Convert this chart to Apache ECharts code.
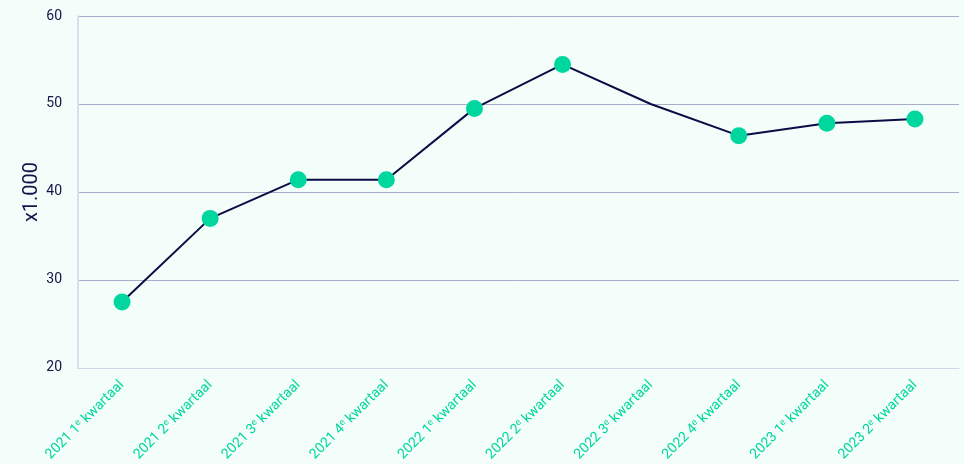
<!DOCTYPE html>
<html>
<head>
<meta charset="utf-8">
<script src="https://cdn.jsdelivr.net/npm/echarts@6/dist/echarts.min.js"></script>
<style>
  html, body { margin: 0; padding: 0; background: #f3fdf9; }
  #main { width: 964px; height: 464px; }
</style>
</head>
<body>
<div id="main"></div>
<script>
// kwartalen en waarden (x1.000)
var categories = ['2021 1e kwartaal', '2021 2e kwartaal', '2021 3e kwartaal', '2021 4e kwartaal',
    '2022 1e kwartaal', '2022 2e kwartaal', '2022 3e kwartaal', '2022 4e kwartaal',
    '2023 1e kwartaal', '2023 2e kwartaal'];
var values = [27.5, 37.0, 41.4, 41.4, 49.5, 54.5, 50.0, 46.4, 47.8, 48.3];
// punten zonder marker
var hiddenPoints = ['2022 3e kwartaal'];

var myChart = echarts.init(document.getElementById('main'));

var seriesData = values.map(function (v, i) {
    if (hiddenPoints.indexOf(categories[i]) >= 0) {
        return { value: v, symbol: 'none' };
    }
    return v;
});

var option = {
    backgroundColor: '#f3fdf9',
    textStyle: { fontFamily: 'Roboto' },
    grid: { left: 78, right: 5, top: 16, bottom: 96 },
    xAxis: {
        type: 'category',
        data: categories,
        axisLine: { lineStyle: { color: '#d3d6e4' } },
        axisTick: { inside: true, length: 8, alignWithLabel: true, lineStyle: { color: '#a9acbf' } },
        axisLabel: {
            rotate: 45,
            color: '#00d79e',
            fontSize: 14,
            margin: 15,
            formatter: function (s) {
                return s.replace(/(\d)e /, '$1{sup|e} ');
            },
            rich: {
                sup: { fontSize: 9, color: '#00d79e', verticalAlign: 'top', padding: [0, 0, 6, 0] }
            }
        }
    },
    yAxis: {
        type: 'value',
        min: 20,
        max: 60,
        interval: 10,
        name: 'x1.000',
        nameLocation: 'middle',
        nameGap: 36,
        nameMoveOverlap: false,
        nameTextStyle: { color: '#14144a', fontSize: 20 },
        axisLine: { show: true, lineStyle: { color: '#dde0ea', width: 2 } },
        axisTick: { show: false },
        axisLabel: { color: '#14144a', fontSize: 14, margin: 16 },
        splitLine: { lineStyle: { color: '#a9adc9' } }
    },
    series: [
        {
            type: 'line',
            data: seriesData,
            symbol: 'circle',
            symbolSize: 17,
            itemStyle: { color: '#00d79e' },
            lineStyle: { color: '#0b0b45', width: 2 },
            z: 3
        }
    ]
};

myChart.setOption(option);
</script>
</body>
</html>
